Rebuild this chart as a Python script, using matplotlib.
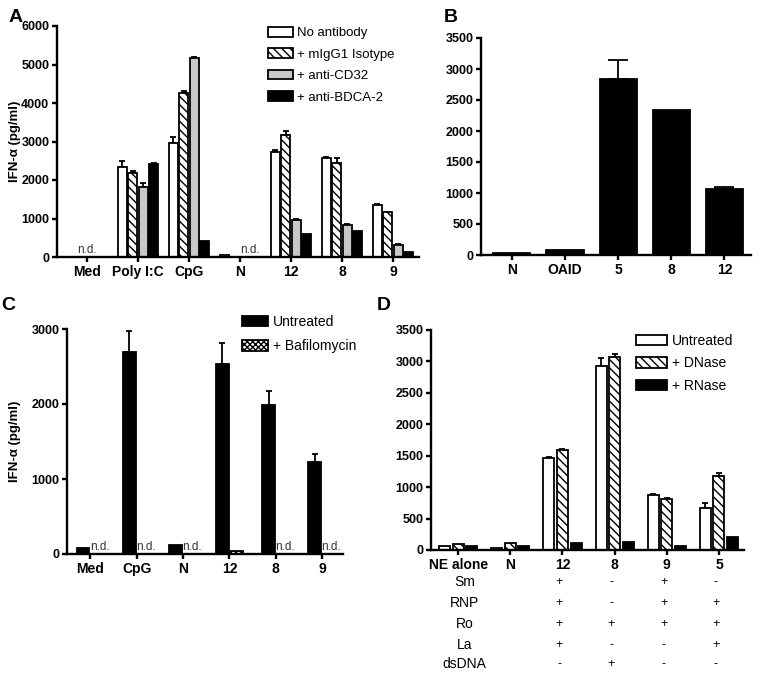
import numpy as np
import matplotlib.pyplot as plt

plt.rcParams['font.family'] = ['Liberation Sans', 'DejaVu Sans']
plt.rcParams['hatch.linewidth'] = 1.0

# Panel A
a_cats = ['Med', 'Poly I:C', 'CpG', 'N', '12', '8', '9']
a_names = ['No antibody', '+ mIgG1 Isotype', '+ anti-CD32', '+ anti-BDCA-2']
a_no_ab = [np.nan, 2340, 2960, 50, 2740, 2560, 1360]
a_iso = [np.nan, 2180, 4270, np.nan, 3160, 2450, 1170]
a_cd32 = [np.nan, 1820, 5170, np.nan, 970, 840, 320]
a_bdca2 = [np.nan, 2410, 420, np.nan, 590, 670, 140]
a_no_ab_err = [0, 150, 150, 0, 30, 40, 10]
a_iso_err = [0, 50, 30, 0, 110, 110, 10]
a_cd32_err = [0, 100, 30, 0, 20, 10, 10]
a_bdca2_err = [0, 20, 0, 0, 0, 0, 0]

# Panel B
b_cats = ['N', 'OAID', '5', '8', '12']
b_vals = [40, 80, 2840, 2340, 1070]
b_err = [0, 0, 310, 0, 20]

# Panel C
c_cats = ['Med', 'CpG', 'N', '12', '8', '9']
c_names = ['Untreated', '+ Bafilomycin']
c_untr = [80, 2700, 120, 2530, 1990, 1230]
c_untr_err = [0, 280, 0, 280, 190, 110]
c_baf = [np.nan, np.nan, np.nan, 35, np.nan, np.nan]
c_baf_err = [0, 0, 0, 0, 0, 0]

# Panel D
d_cats = ['NE alone', 'N', '12', '8', '9', '5']
d_names = ['Untreated', '+ DNase', '+ RNase']
d_untr = [70, 30, 1460, 2930, 875, 665]
d_untr_err = [0, 0, 15, 120, 15, 85]
d_dnase = [90, 110, 1590, 3065, 805, 1180]
d_dnase_err = [0, 0, 20, 55, 15, 40]
d_rnase = [65, 65, 110, 120, 70, 200]
d_rnase_err = [0, 0, 0, 0, 0, 0]
d_rows = ['Sm', 'RNP', 'Ro', 'La', 'dsDNA']
d_signs = {'Sm': ['+', '-', '+', '-'],
           'RNP': ['+', '-', '+', '+'],
           'Ro': ['+', '+', '+', '+'],
           'La': ['+', '-', '-', '+'],
           'dsDNA': ['-', '+', '-', '-']}

W, H = 762, 675
fig = plt.figure(figsize=(W / 100, H / 100), dpi=100)


def px_axes(x0, x1, ytop, ybot):
    return fig.add_axes([x0 / W, (H - ybot) / H, (x1 - x0) / W, (ybot - ytop) / H])


def bars(ax, x, vals, errs, width, face, hatch, capsize, label):
    vals = np.asarray(vals, float)
    errs = np.asarray(errs, float)
    ok = ~np.isnan(vals)
    b = ax.bar(x[ok], vals[ok], width, color=face, edgecolor='k', hatch=hatch,
               linewidth=1.3, label=label, zorder=2)
    e = ok & (errs > 0)
    if e.any():
        ax.errorbar(x[e], vals[e], yerr=[np.zeros(e.sum()), errs[e]], fmt='none',
                    ecolor='k', elinewidth=1.3, capsize=capsize, capthick=1.3, zorder=1)
    return b


def style(ax, cats, ymax, ystep, xlim):
    for s in ['top', 'right']:
        ax.spines[s].set_visible(False)
    for s in ['left', 'bottom']:
        ax.spines[s].set_linewidth(1.7)
    ax.set_xlim(*xlim)
    ax.set_ylim(0, ymax)
    ax.set_yticks(np.arange(0, ymax + 1, ystep))
    ax.set_xticks(range(len(cats)))
    ax.set_xticklabels(cats, fontweight='bold', fontsize=10)
    ax.tick_params(width=1.7, length=3.5, direction='out', pad=2)
    ax.tick_params(axis='y', labelsize=9)
    for t in ax.get_yticklabels():
        t.set_fontweight('bold')


def nd(ax, x):
    ax.text(x, 15, 'n.d.', ha='center', va='bottom', fontsize=8.5, color='#333333')


hatch_diag = '\\' * 4
hatch_cross = 'x' * 6

# ---------------- A ----------------
axA = px_axes(57, 419, 26, 257)
x = np.arange(len(a_cats))
step, bw = 0.205, 0.175
hA = []
for i, (v, e, fc, h, nm) in enumerate([
        (a_no_ab, a_no_ab_err, 'white', None, a_names[0]),
        (a_iso, a_iso_err, 'white', hatch_diag, a_names[1]),
        (a_cd32, a_cd32_err, '#c8c8c8', None, a_names[2]),
        (a_bdca2, a_bdca2_err, 'black', None, a_names[3])]):
    hA.append(bars(axA, x + (i - 1.5) * step, v, e, bw, fc, h, 2.4, nm))
style(axA, a_cats, 6000, 1000, (-0.59, 6.51))
nd(axA, 0)
nd(axA, 3.2)
axA.legend(handles=hA, loc='upper left', bbox_to_anchor=((268 - 57) / 362, (257 - 27) / 231),
           frameon=False, fontsize=9.5, handlelength=1.9, handleheight=0.75,
           labelspacing=0.68, handletextpad=0.3, borderpad=0, borderaxespad=0)

# ---------------- B ----------------
axB = px_axes(481, 751, 38, 255)
xb = np.arange(len(b_cats))
bars(axB, xb, b_vals, b_err, 0.7, 'black', None, 7, None)
style(axB, b_cats, 3500, 500, (-0.58, 4.5))

# ---------------- C ----------------
axC = px_axes(67, 343, 329, 554)
xc = np.arange(len(c_cats))
hC = [bars(axC, xc - 0.155, c_untr, c_untr_err, 0.28, 'black', None, 2.5, c_names[0]),
      bars(axC, xc + 0.155, c_baf, c_baf_err, 0.28, 'white', hatch_cross, 2.5, c_names[1])]
style(axC, c_cats, 3000, 1000, (-0.5, 5.45))
for i, v in enumerate(c_baf):
    if np.isnan(v):
        nd(axC, i + 0.2)
axC.legend(handles=hC, loc='upper left', bbox_to_anchor=((242 - 67) / 276, (554 - 315) / 225),
           frameon=False, fontsize=10, handlelength=1.9, handleheight=0.75,
           labelspacing=0.75, handletextpad=0.3, borderpad=0, borderaxespad=0)

# ---------------- D ----------------
axD = px_axes(431, 744, 330, 550)
xd = np.arange(len(d_cats))
step, bw = 0.26, 0.21
hD = []
for i, (v, e, fc, h, nm) in enumerate([
        (d_untr, d_untr_err, 'white', None, d_names[0]),
        (d_dnase, d_dnase_err, 'white', hatch_diag, d_names[1]),
        (d_rnase, d_rnase_err, 'black', None, d_names[2])]):
    hD.append(bars(axD, xd + (i - 1) * step, v, e, bw, fc, h, 2.5, nm))
style(axD, d_cats, 3500, 500, (-0.52, 5.48))
axD.legend(handles=hD, loc='upper left', bbox_to_anchor=((636 - 431) / 313, (550 - 334) / 220),
           frameon=False, fontsize=10, handlelength=2.2, handleheight=0.75,
           labelspacing=0.6, handletextpad=0.4, borderpad=0, borderaxespad=0)

tr = axD.get_xaxis_transform()
row_y = [582, 603, 624, 645, 664]
for name, ypx in zip(d_rows, row_y):
    yf = (550 - ypx) / 220
    axD.text(0.12, yf, name, transform=tr, ha='center', va='center', fontsize=10)
    for xi, s in zip(xd[2:], d_signs[name]):
        axD.text(xi - 0.06, yf, s, transform=tr, ha='center', va='center', fontsize=9)

# labels
for lab, (xp, yp) in zip('ABCD', [(16, 18), (451, 18), (8, 306), (384, 306)]):
    fig.text(xp / W, 1 - yp / H, lab, fontsize=14, fontweight='bold', ha='center', va='center')
fig.text(15 / W, 1 - 141 / H, 'IFN-α (pg/ml)', rotation=90, fontsize=9.5, fontweight='bold',
         ha='center', va='center')
fig.text(15 / W, 1 - 441 / H, 'IFN-α (pg/ml)', rotation=90, fontsize=9.5, fontweight='bold',
         ha='center', va='center')

fig.savefig('out.png', dpi=100)
